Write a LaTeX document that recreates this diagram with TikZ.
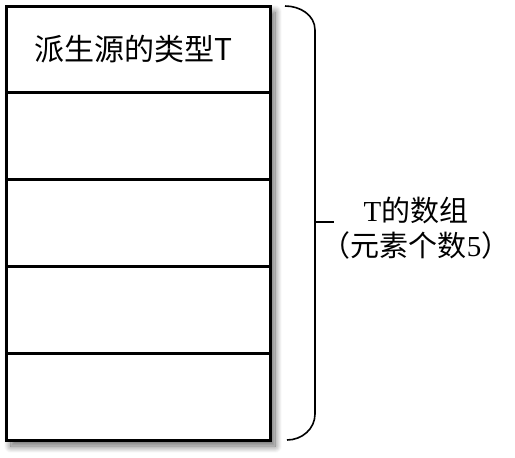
\documentclass[tikz,border=0pt]{standalone}
\usepackage{fontspec}
\setmainfont{Liberation Serif}
\newfontfamily\cjk{Noto Sans CJK SC}
\usetikzlibrary{positioning,shadows.blur}
\pgfdeclarelayer{background}
\pgfsetlayers{background,main}

\begin{document}
\begin{tikzpicture}[
    x=1pt, y=-1pt,
    cell/.style={rectangle, draw, fill=white, line width=3pt, outer sep=0pt, inner sep=0pt, minimum width=264pt, minimum height=86.8pt, font=\cjk\fontsize{30}{32}\selectfont},
    brace/.style={line width=1.6pt},
    label/.style={align=center, font=\fontsize{29}{35}\selectfont}
]
\useasboundingbox (0,0) rectangle (515,458);

\node[cell] (row1) at (138,49.4) {\hspace*{-10pt}派生源的类型T};
\node[cell, below=0pt of row1] (row2) {};
\node[cell, below=0pt of row2] (row3) {};
\node[cell, below=0pt of row3] (row4) {};
\node[cell, below=0pt of row4] (row5) {};

% shadow behind the stack
\begin{pgfonlayer}{background}
\fill[white, blur shadow={shadow xshift=5pt, shadow yshift=-6pt, shadow blur radius=7pt, shadow blur steps=14, shadow opacity=60}]
    (row1.north west) rectangle (row5.south east);
\end{pgfonlayer}

% brace
\coordinate (top) at ([xshift=15pt]row1.north east);
\coordinate (bot) at ([xshift=17pt]row5.south east);
\coordinate (mid) at (315,222);
\draw[brace] (top) to[out=0, in=90] ++(30,24) -- (315,414) to[out=-90, in=0] (bot);
\draw[brace] (mid) -- ++(19,0);

\node[label] (arr) at (416,228) {T{\cjk 的数组}\\{\cjk （元素个数}5{\cjk ）}};

\end{tikzpicture}
\end{document}
